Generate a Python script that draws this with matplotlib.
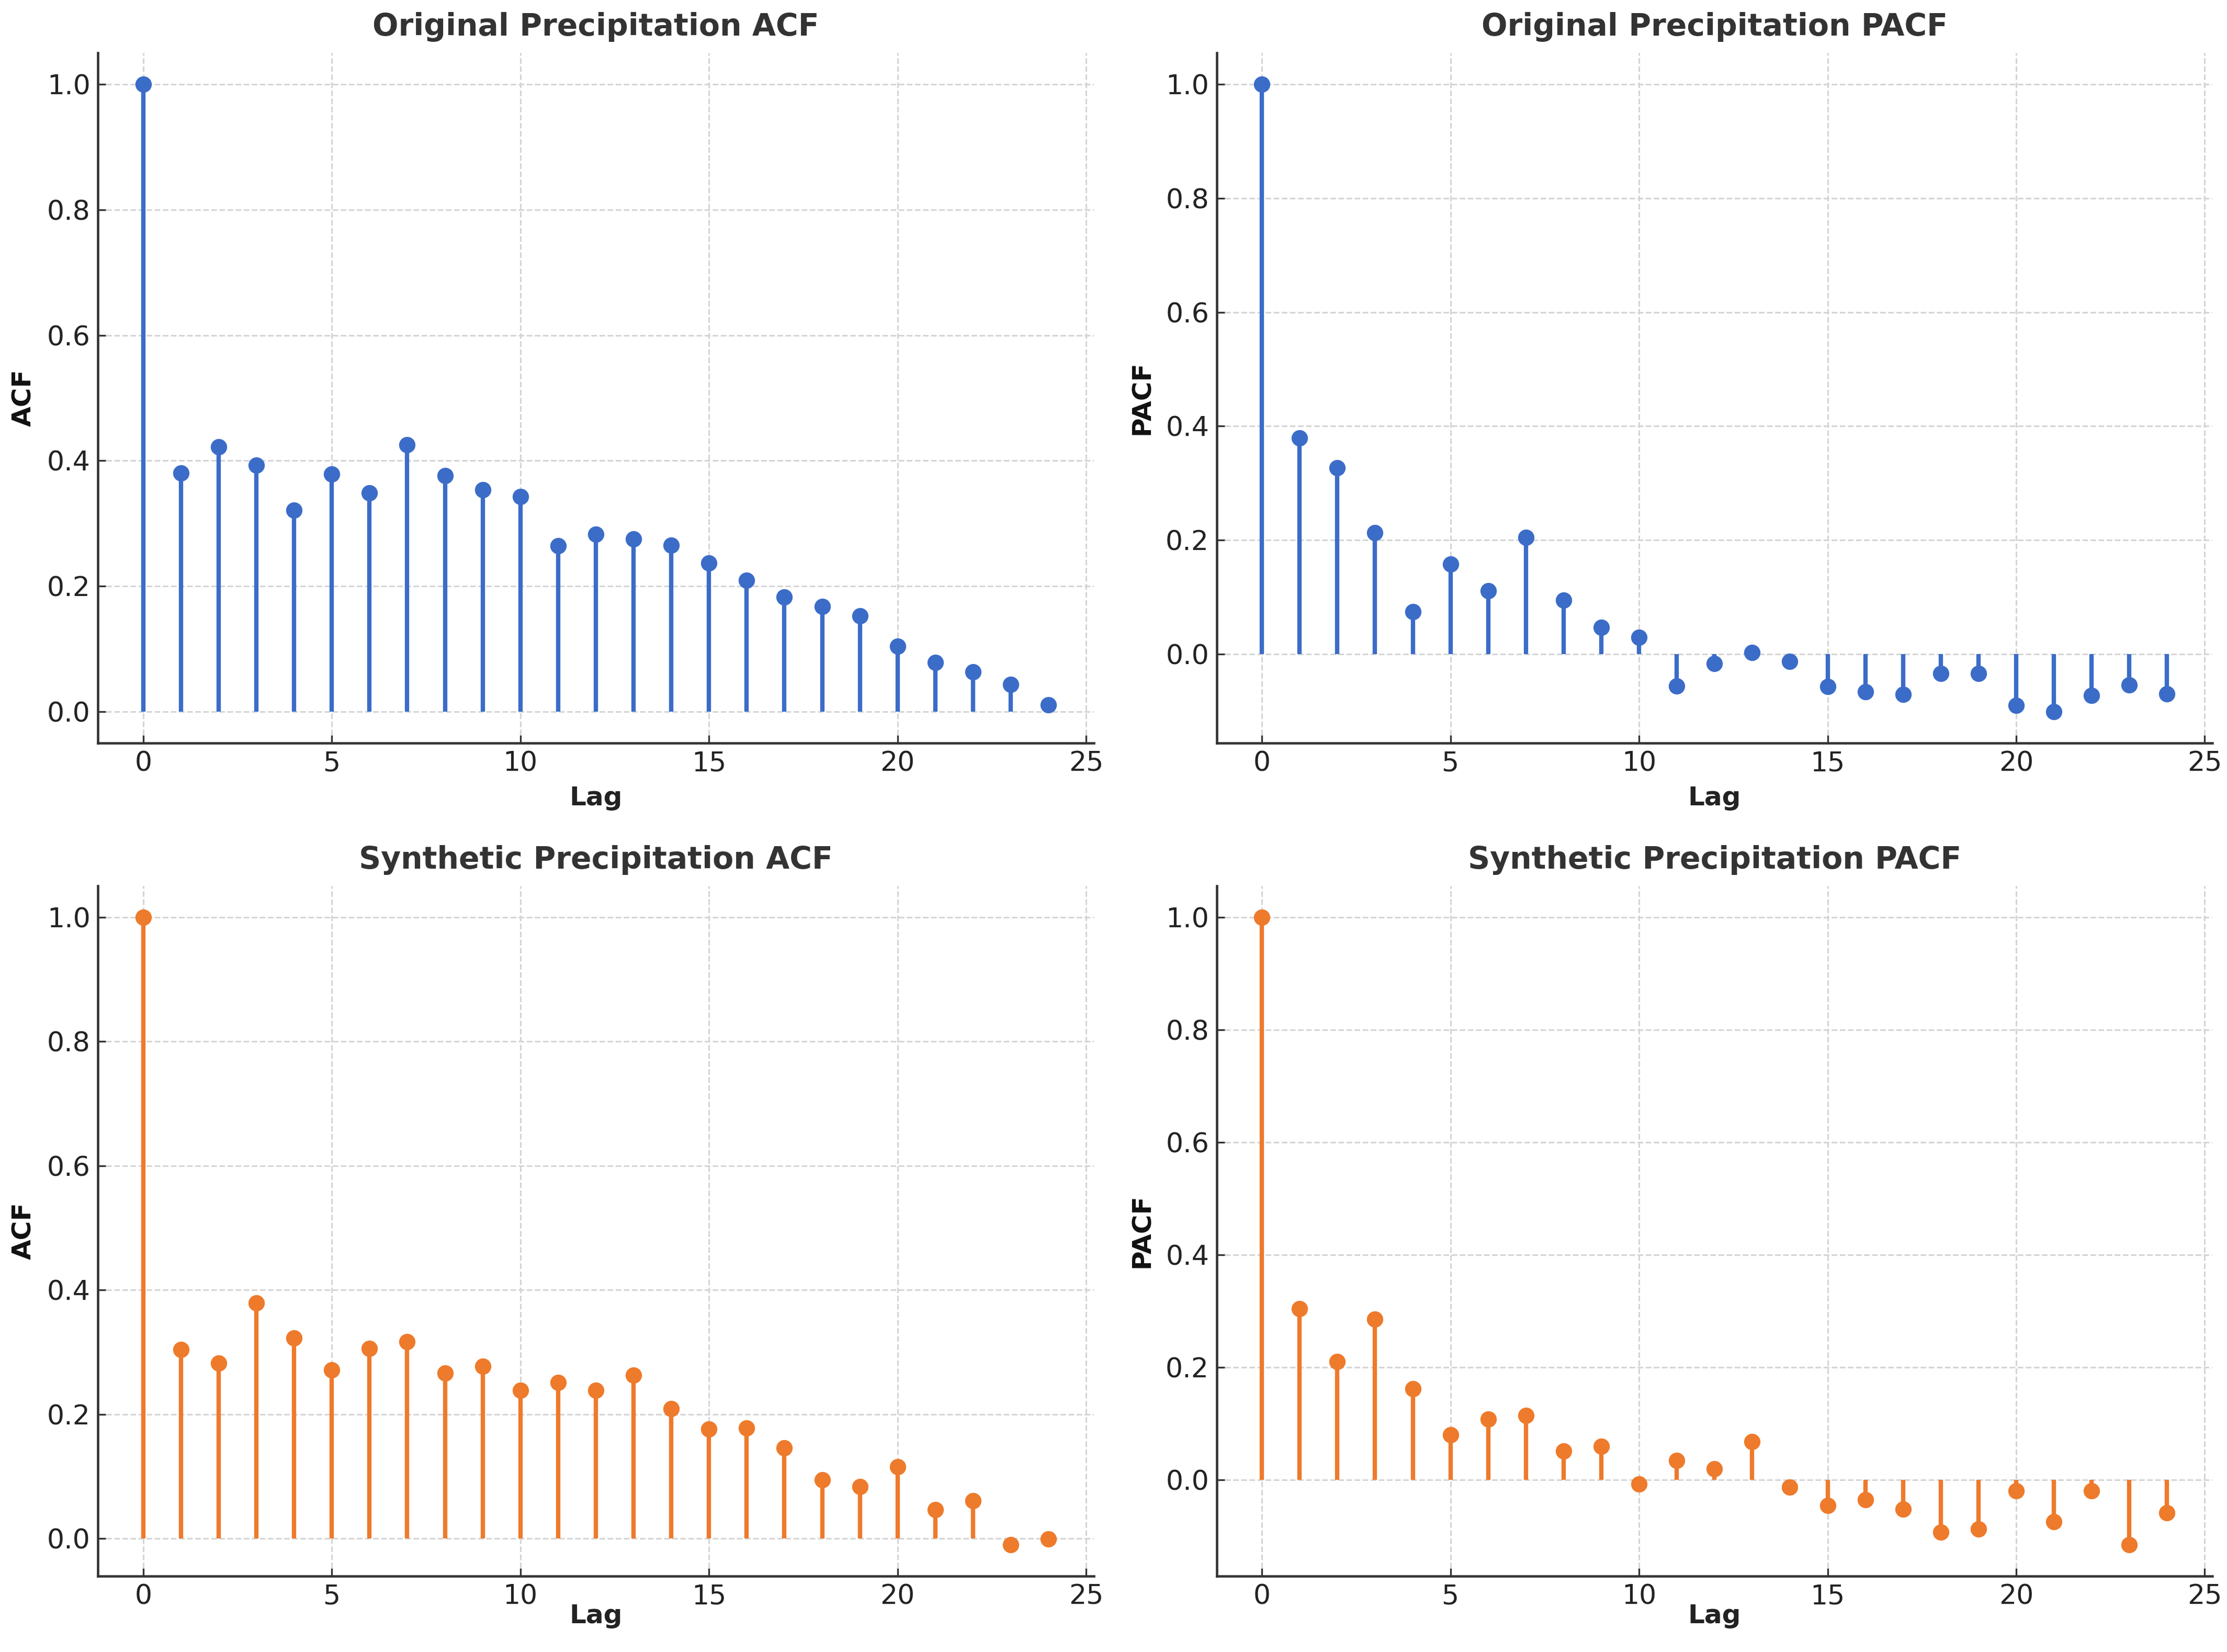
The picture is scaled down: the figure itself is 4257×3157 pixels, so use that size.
import numpy as np
import matplotlib
matplotlib.use("Agg")
import matplotlib.pyplot as plt

# lags 0..24
lags = np.arange(25)

orig_acf = [1.0, 0.380, 0.422, 0.393, 0.321, 0.379, 0.349, 0.425, 0.376, 0.354,
            0.343, 0.264, 0.283, 0.275, 0.265, 0.237, 0.209, 0.183, 0.168, 0.153,
            0.104, 0.078, 0.063, 0.043, 0.011]
orig_pacf = [1.0, 0.379, 0.327, 0.213, 0.074, 0.158, 0.111, 0.205, 0.095, 0.047,
             0.029, -0.056, -0.017, 0.003, -0.013, -0.057, -0.066, -0.071, -0.034, -0.034,
             -0.090, -0.101, -0.073, -0.054, -0.070]
synth_acf = [1.0, 0.304, 0.282, 0.379, 0.323, 0.271, 0.306, 0.317, 0.266, 0.277,
             0.238, 0.251, 0.238, 0.263, 0.209, 0.176, 0.178, 0.146, 0.094, 0.083,
             0.115, 0.046, 0.061, -0.010, -0.001]
synth_pacf = [1.0, 0.304, 0.210, 0.286, 0.162, 0.080, 0.108, 0.115, 0.051, 0.060,
              -0.007, 0.035, 0.020, 0.068, -0.013, -0.045, -0.035, -0.052, -0.093, -0.087,
              -0.019, -0.074, -0.019, -0.115, -0.058]

BLUE = "#3b6cc8"
ORANGE = "#ee7a2b"

panels = [
    ("Original Precipitation ACF", "ACF", orig_acf, BLUE),
    ("Original Precipitation PACF", "PACF", orig_pacf, BLUE),
    ("Synthetic Precipitation ACF", "ACF", synth_acf, ORANGE),
    ("Synthetic Precipitation PACF", "PACF", synth_pacf, ORANGE),
]


def stem_panel(ax, title, ylabel, values, color, xpad):
    markerline, stemlines, baseline = ax.stem(lags, values, basefmt=" ")
    plt.setp(stemlines, color=color, linewidth=2.0)
    plt.setp(markerline, color=color, markersize=6.5)
    ax.set_title(title, fontsize=14, fontweight="bold", color="#333333", pad=8)
    ax.set_xlabel("Lag", fontsize=12, fontweight="bold", color="#222222", labelpad=xpad)
    ax.set_ylabel(ylabel, fontsize=12, fontweight="bold", color="#111111", labelpad=5)
    ax.grid(True, linestyle="--", color="#d4d4d4", linewidth=0.7)
    ax.set_axisbelow(True)
    for side in ["top", "right"]:
        ax.spines[side].set_visible(False)
    for side in ["left", "bottom"]:
        ax.spines[side].set_color("#333333")
        ax.spines[side].set_linewidth(1.1)
    ax.tick_params(direction="in", length=3.5, width=0.8, colors="#333333",
                   labelsize=12.5, labelcolor="#222222")
    ax.set_xticks([0, 5, 10, 15, 20, 25])


fig, axes = plt.subplots(2, 2, figsize=(4257 / 300, 3157 / 300), dpi=300)
for i, (ax, (title, ylabel, values, color)) in enumerate(zip(axes.flat, panels)):
    # bottom row has the Lag label tucked closer to the ticks
    stem_panel(ax, title, ylabel, values, color, xpad=4 if i < 2 else -3)

fig.subplots_adjust(left=0.044, right=0.9934, top=0.968, bottom=0.046,
                    wspace=0.1235, hspace=0.207)
fig.savefig("out.png", dpi=300, facecolor="white")
